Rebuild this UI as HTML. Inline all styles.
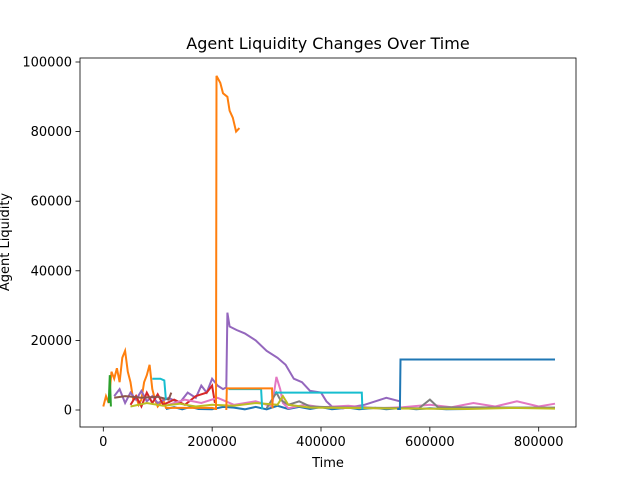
<!DOCTYPE html>
<html><head><meta charset="utf-8"><style>
body{margin:0;background:#fff;font-family:"Liberation Sans","DejaVu Sans",sans-serif}
svg text{font-family:"DejaVu Sans","Liberation Sans",sans-serif;font-size:13px;fill:#000}
</style></head><body>
<svg id="chart" width="640" height="480">
<rect width="640" height="480" fill="#fff"/>
<g id="plot"></g>
<rect x="80" y="58" width="496" height="369" fill="none" stroke="#000" stroke-width="0.8"/>
<g id="axes"></g>
<text x="328" y="49" text-anchor="middle" style="font-size:16px">Agent Liquidity Changes Over Time</text>
<text x="328" y="467" text-anchor="middle">Time</text>
<text x="0" y="0" text-anchor="middle" transform="translate(9,242) rotate(-90)">Agent Liquidity</text>
</svg>
<script>
const xTicks=[0,200000,400000,600000,800000];
const yTicks=[0,20000,40000,60000,80000,100000];
const seriesNames=["blue-baseline","blue-step","orange-early","orange-spike","orange-rect","purple","cyan-a","cyan-b","cyan-c","pink","gray","olive","red","brown","green"];
const seriesColors=["#1f77b4","#1f77b4","#ff7f0e","#ff7f0e","#ff7f0e","#9467bd","#17becf","#17becf","#17becf","#e377c2","#7f7f7f","#bcbd22","#d62728","#8c564b","#2ca02c"];
const blueBaseline=[[115000,300],[130000,800],[145000,200],[160000,900],[175000,300],[200000,200],[220000,900],[240000,700],[260000,200],[280000,900],[300000,200],[320000,1200],[340000,300],[360000,900],[380000,300],[400000,800],[420000,200],[450000,700],[470000,200],[500000,600],[520000,200],[550000,600],[575000,200],[600000,500],[630000,200],[670000,300]];
const blueStep=[[540000,300],[545000,300],[546000,14500],[830000,14500]];
const orangeEarly=[[0,1000],[5000,4000],[10000,2000],[15000,11000],[20000,9000],[25000,12000],[30000,8000],[35000,15000],[40000,17000],[45000,11000],[50000,8000],[55000,3000],[60000,4000],[65000,1500],[70000,3000],[75000,8000],[80000,10000],[85000,13000],[90000,6000],[95000,3000],[100000,1000],[110000,3000],[115000,600],[200000,600],[207000,300]];
const orangeSpike=[[207000,0],[208000,96000],[215000,94000],[220000,91000],[228000,90000],[232000,86000],[238000,84000],[244000,80000],[250000,81000]];
const orangeRect=[[226000,0],[227000,6200],[310000,6200],[311000,500]];
const purple=[[20000,4000],[30000,6000],[40000,2000],[50000,5000],[60000,3000],[70000,5500],[80000,2500],[90000,4000],[100000,2000],[120000,3500],[140000,2000],[155000,5000],[170000,3500],[180000,7000],[190000,5000],[200000,9000],[210000,7000],[220000,6000],[226000,6500],[228000,28000],[232000,24000],[245000,23000],[260000,22000],[280000,20000],[300000,17000],[320000,15000],[335000,13000],[350000,9000],[365000,8000],[380000,5500],[400000,5000],[410000,2500],[420000,1000],[440000,500],[480000,1500],[500000,2500],[520000,3500],[545000,2500]];
const cyanA=[[90000,9000],[105000,9000],[112000,8500],[115000,3000]];
const cyanB=[[230000,6000],[290000,6000],[292000,200]];
const cyanC=[[315000,5000],[475000,5000],[476000,200]];
const pink=[[120000,1500],[150000,3000],[180000,2000],[210000,3500],[240000,1500],[280000,2500],[310000,1000],[318000,9500],[325000,6000],[330000,2000],[340000,500],[370000,1500],[400000,800],[450000,1200],[500000,500],[550000,800],[600000,1500],[640000,800],[680000,2000],[720000,1000],[760000,2500],[800000,1000],[830000,1800]];
const gray=[[300000,500],[318000,5000],[325000,3000],[340000,1500],[360000,2500],[380000,1000],[420000,800],[580000,500],[600000,3000],[615000,800],[830000,700]];
const olive=[[50000,1000],[80000,2000],[110000,1200],[140000,1800],[170000,1000],[200000,1500],[240000,1200],[280000,2000],[320000,1500],[330000,4000],[340000,1500],[380000,700],[500000,500],[670000,300],[750000,600],[830000,400]];
const red=[[50000,1500],[60000,4000],[70000,1000],[80000,5000],[90000,2000],[100000,4500],[110000,1500],[130000,3000],[150000,1500],[170000,4000],[190000,5000],[200000,7000],[205000,2000]];
const brown=[[20000,3500],[40000,4000],[70000,3500],[100000,3800],[120000,3000],[125000,5000]];
const green=[[10000,2000],[12000,10000],[14000,1000]];
const allSeries=[blueBaseline,orangeEarly,purple,red,brown,pink,gray,olive,cyanA,cyanB,cyanC,orangeSpike,orangeRect,green,blueStep];
const order=[0,2,5,12,13,9,10,11,6,7,8,3,4,14,1];
const X0=103.3,X1=538.7,Y0=410,Y1=62;
const xs=v=>X0+(X1-X0)*v/800000;
const ys=v=>Y0-(Y0-Y1)*v/100000;
const NS="http://www.w3.org/2000/svg";
const plot=document.getElementById('plot'),axes=document.getElementById('axes');
allSeries.forEach((s,i)=>{
  const k=order[i];
  const p=document.createElementNS(NS,'polyline');
  p.setAttribute('points',s.map(d=>xs(d[0]).toFixed(1)+','+ys(d[1]).toFixed(1)).join(' '));
  p.setAttribute('fill','none');p.setAttribute('stroke',seriesColors[k]);p.setAttribute('stroke-width','2');
  
  
  plot.appendChild(p);
});
xTicks.forEach(t=>{
  const x=xs(t);
  const l=document.createElementNS(NS,'line');
  l.setAttribute('x1',x);l.setAttribute('x2',x);l.setAttribute('y1',427);l.setAttribute('y2',431.5);l.setAttribute('stroke','#000');l.setAttribute('stroke-width','0.8');
  
  
  axes.appendChild(l);
  const tx=document.createElementNS(NS,'text');
  tx.setAttribute('x',x);tx.setAttribute('y',446);tx.setAttribute('text-anchor','middle');tx.textContent=t;
  
  
  axes.appendChild(tx);
});
yTicks.forEach(t=>{
  const y=ys(t);
  const l=document.createElementNS(NS,'line');
  l.setAttribute('x1',75.5);l.setAttribute('x2',80);l.setAttribute('y1',y);l.setAttribute('y2',y);l.setAttribute('stroke','#000');l.setAttribute('stroke-width','0.8');
  
  
  axes.appendChild(l);
  const tx=document.createElementNS(NS,'text');
  tx.setAttribute('x',72);tx.setAttribute('y',y+4.5);tx.setAttribute('text-anchor','end');tx.textContent=t;
  
  
  axes.appendChild(tx);
});
</script>
</body></html>
